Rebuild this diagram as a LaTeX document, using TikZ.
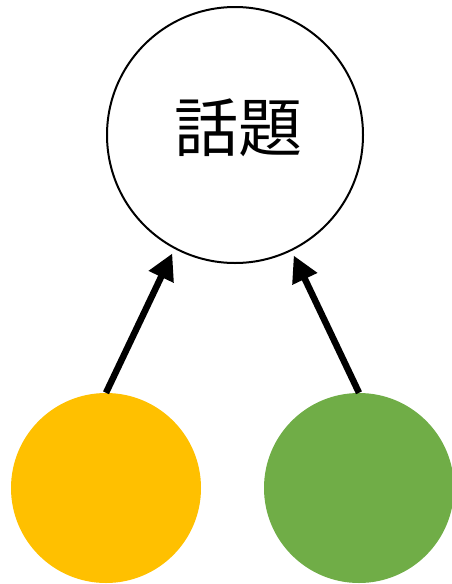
\documentclass[tikz,border=0pt]{standalone}
\usepackage{fontspec}
\newfontfamily\cjk{Noto Sans CJK JP}
\usetikzlibrary{arrows.meta}
\definecolor{orangec}{HTML}{FFC000}
\definecolor{greenc}{HTML}{70AD47}
\tikzset{
  bigc/.style={circle, draw=black, line width=2pt, fill=white, minimum size=256pt, inner sep=0pt},
  dotc/.style={circle, draw=none, minimum size=190pt, inner sep=0pt},
  arr/.style={line width=6.5pt, -{Triangle[length=26pt,width=26pt]}, shorten >=5pt}
}
\begin{document}
\begin{tikzpicture}[x=1pt,y=-1pt]
\useasboundingbox (0,0) rectangle (452,584);
\node[bigc] (t) at (235,135) {};
\node[font=\cjk\fontsize{64}{70}\selectfont] (lab) at (238,128) {話題};
\node[dotc, fill=orangec] (o) at (106,488) {};
\node[dotc, fill=greenc] (g) at (359,488) {};
\draw[arr] (o.north) -- (t.242.8);
\draw[arr] (g.north) -- (t.296.3);
\end{tikzpicture}
\end{document}
